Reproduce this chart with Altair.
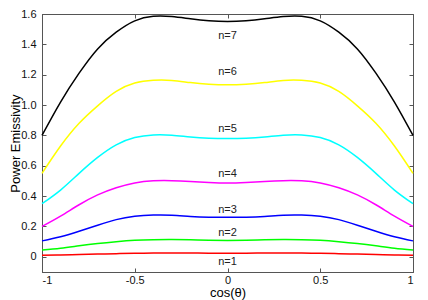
import altair as alt
import pandas as pd

x_vals = [-1.0, -0.9, -0.8, -0.7, -0.6, -0.5, -0.4, -0.3, -0.2, -0.1, 0.0,
          0.1, 0.2, 0.3, 0.4, 0.5, 0.6, 0.7, 0.8, 0.9, 1.0]

n1 = [0.010, 0.012, 0.015, 0.018, 0.021, 0.023, 0.025, 0.026, 0.025, 0.024, 0.024,
      0.024, 0.025, 0.026, 0.025, 0.023, 0.021, 0.018, 0.015, 0.012, 0.010]
n2 = [0.045, 0.057, 0.073, 0.088, 0.100, 0.109, 0.113, 0.114, 0.112, 0.109, 0.108,
      0.109, 0.112, 0.114, 0.113, 0.109, 0.100, 0.088, 0.073, 0.057, 0.045]
n3 = [0.105, 0.132, 0.168, 0.208, 0.245, 0.267, 0.275, 0.274, 0.266, 0.261, 0.260,
      0.261, 0.266, 0.274, 0.275, 0.267, 0.245, 0.208, 0.168, 0.132, 0.105]
n4 = [0.200, 0.268, 0.343, 0.408, 0.455, 0.487, 0.501, 0.502, 0.497, 0.490, 0.486,
      0.490, 0.497, 0.502, 0.501, 0.487, 0.455, 0.408, 0.343, 0.268, 0.200]
n5 = [0.350, 0.440, 0.550, 0.655, 0.738, 0.786, 0.803, 0.801, 0.789, 0.781, 0.779,
      0.781, 0.789, 0.801, 0.803, 0.786, 0.738, 0.655, 0.550, 0.440, 0.350]
n6 = [0.550, 0.730, 0.880, 0.995, 1.090, 1.145, 1.163, 1.162, 1.148, 1.137, 1.133,
      1.137, 1.148, 1.162, 1.163, 1.145, 1.090, 0.995, 0.880, 0.730, 0.550]
n7 = [0.800, 1.020, 1.210, 1.370, 1.480, 1.555, 1.585, 1.583, 1.568, 1.555, 1.550,
      1.555, 1.568, 1.583, 1.585, 1.555, 1.480, 1.370, 1.210, 1.020, 0.800]

series_names = ["n=1", "n=2", "n=3", "n=4", "n=5", "n=6", "n=7"]
series_colors = ["#ff0000", "#00ff00", "#0000ff", "#ff00ff", "#00ffff", "#ffff00", "#000000"]
label_x = [0, 0, 0, 0, 0, 0, 0]
label_y = [-0.034, 0.159, 0.31, 0.546, 0.843, 1.219, 1.454]

x_ticks = [-1, -0.5, 0, 0.5, 1]
y_ticks = [0, 0.2, 0.4, 0.6, 0.8, 1.0, 1.2, 1.4, 1.6]

rows = []
for name, vals in zip(series_names, [n1, n2, n3, n4, n5, n6, n7]):
    for xv, yv in zip(x_vals, vals):
        rows.append({"x": xv, "v": yv, "series": name})
df = pd.DataFrame(rows)
lab = pd.DataFrame({"x": label_x, "v": label_y, "t": series_names})

W, H = 371, 258
FONT = "Liberation Sans"
AX = "#555555"
xscale = alt.Scale(domain=[-1, 1], nice=False, zero=False)
yscale = alt.Scale(domain=[-0.1, 1.6], nice=False, zero=False)
ylabel = "datum.value == 0 ? '0' : format(datum.value, '.1f')"
xlabel = "datum.value < 0 ? '-' + format(-datum.value, '~g') : format(datum.value, '~g')"

lines = alt.Chart(df).mark_line(strokeWidth=1.5, interpolate="natural").encode(
    x=alt.X("x:Q", scale=xscale, axis=alt.Axis(
        values=x_ticks, ticks=False, tickSize=0, grid=False, title="cos(θ)",
        labelExpr=xlabel, labelPadding=2, titleBaseline="top", titleY=14,
        domainColor=AX)),
    y=alt.Y("v:Q", scale=yscale, axis=alt.Axis(
        values=y_ticks, ticks=False, tickSize=0, grid=False, title="Power Emissivity",
        labelExpr=ylabel, labelPadding=6, titleBaseline="middle", titleX=-27,
        titleY=H / 2, domainColor=AX)),
    color=alt.Color("series:N", scale=alt.Scale(domain=series_names, range=series_colors),
                    legend=None),
)

ticks_a = alt.Chart(df).mark_point(opacity=0).encode(
    x=alt.X("x:Q", scale=xscale, axis=alt.Axis(
        orient="top", offset=-H, values=x_ticks, labels=False, domain=False,
        grid=False, tickSize=4, tickColor=AX, title=None)),
    y=alt.Y("v:Q", scale=yscale, axis=alt.Axis(
        orient="right", offset=-W, values=y_ticks, labels=False, domain=False,
        grid=False, tickSize=4, tickColor=AX, title=None)),
)
ticks_b = alt.Chart(df).mark_point(opacity=0).encode(
    x=alt.X("x:Q", scale=xscale, axis=alt.Axis(
        orient="bottom", offset=-H, values=x_ticks, labels=False, domain=False,
        grid=False, tickSize=4, tickColor=AX, title=None)),
    y=alt.Y("v:Q", scale=yscale, axis=alt.Axis(
        orient="left", offset=-W, values=y_ticks, labels=False, domain=False,
        grid=False, tickSize=4, tickColor=AX, title=None)),
)

texts = alt.Chart(lab).mark_text(font=FONT, fontSize=11, color="#222222",
                                 align="center", baseline="middle").encode(
    x=alt.X("x:Q", scale=xscale, axis=None),
    y=alt.Y("v:Q", scale=yscale, axis=None),
    text="t:N",
)

chart = alt.layer(lines, ticks_a, ticks_b, texts).resolve_axis(
    x="independent", y="independent"
).properties(
    width=W, height=H,
    autosize=alt.AutoSizeParams(type="none"),
    padding={"left": 34, "top": 6, "right": 7, "bottom": 28},
).configure_axis(
    labelFont=FONT, labelFontSize=11, labelColor="#111111",
    titleFont=FONT, titleFontSize=13, titleFontWeight="normal", titleColor="#000000",
).configure_view(stroke=AX, strokeWidth=1)

chart.save("out.html", embed_options={"renderer": "svg", "actions": False})
